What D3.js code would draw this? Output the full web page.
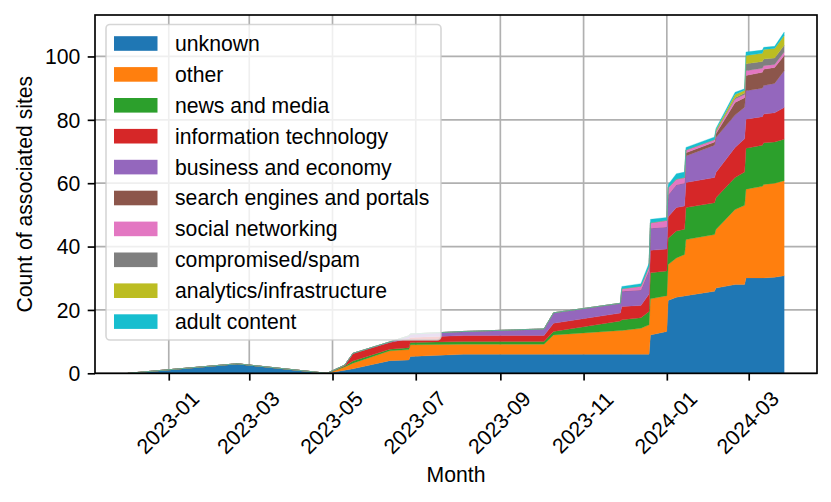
<!DOCTYPE html>
<html><head><meta charset="utf-8">
<script src="https://cdn.jsdelivr.net/npm/d3@7"></script>
<style>
body{margin:0;background:#fff}
text{font-family:"Liberation Sans",Arial,Helvetica,sans-serif;fill:#000}
</style>
</head><body><svg id="c" width="831" height="502"></svg>
<script>
const dates = ["2022-12-02","2023-02-20","2023-04-27","2023-05-10","2023-05-16","2023-06-12","2023-06-26","2023-06-27","2023-08-05","2023-10-03","2023-10-10","2023-11-28","2023-11-29","2023-12-13","2023-12-19","2023-12-20","2024-01-01","2024-01-02","2024-01-08","2024-01-14","2024-01-15","2024-02-05","2024-02-06","2024-02-20","2024-02-27","2024-02-28","2024-03-11","2024-03-12","2024-03-20","2024-03-27"];
const unknown   = [0,3,0,1,1.4,4.0,4.2,5.3,6,6,6,6,6,6,6,12.1,13.2,23,24,24.4,24.5,25.9,26.9,28,28,30.1,30.1,30.1,30.3,30.8];
const other     = [0,0,0,1,1.8,3.1,3.3,3.7,3.2,3.2,6.1,7.5,7.5,8.2,9.3,11.4,11.3,11.3,12.4,13.1,17.7,17.9,18.5,23.7,25,28,28.9,29.5,29.7,30];
const news      = [0,0,0,0.3,0.7,0.5,0.6,0.7,0.8,0.8,1.1,3.0,3.4,3.3,4.2,8.2,7.8,8.3,8.5,8.0,10.1,10.0,10,10.1,10.5,12.9,13,13.2,13,13.1];
const infotech  = [0,0,0,0.3,2.4,2.1,2.8,1.6,1.9,1.9,2.6,2.5,4.2,3.9,5.5,7.1,6.9,6.8,7.4,7.3,7.9,8.0,8,9.5,10.5,9.2,9,9,9.2,10];
const business  = [0,0,0,0,0,0.2,0.9,1.1,1.3,2.1,3.3,3.1,4.8,4.9,7.5,7.0,7.0,6.9,7.2,7.2,8.4,10.2,11,10.2,10,9.0,9,9,9.3,11.6];
const search    = [0,0,0,0,0,0,0,0,0,0,0,0,0,0,0,0,0,0,0,0,1.0,1.0,1.2,4.0,3,4.8,5,5.2,5,4.8];
const social    = [0,0,0,0,0,0,0,0,0,0,0,0,0.8,1.2,1.3,1.7,2.1,2.3,1.8,1.8,0.9,0.8,0.7,1.1,1,1.5,1.3,1.1,1,1.1];
const spam      = [0,0,0,0,0,0,0,0,0,0,0,0,0,0,0,0,0,0,0,0,0,0,0,0.4,0.5,2.2,2.1,2.1,2,2.1];
const analytics = [0,0,0,0,0,0,0,0,0,0,0,0,0,0,0,0,0,0,0,0,0,0,0.5,1.0,0.8,2.6,2.6,3.0,3,3.1];
const adult     = [0,0,0,0,0,0,0,0,0,0,0,0,0.7,0.8,1.0,1.1,0.9,1.0,1.7,1.7,0.8,0.8,0.5,0.7,0.5,1.1,1.0,0.7,0.7,1.1];
const categories = ["unknown","other","news and media","information technology","business and economy","search engines and portals","social networking","compromised/spam","analytics/infrastructure","adult content"];
const xTickLabels = ["2023-01","2023-03","2023-05","2023-07","2023-09","2023-11","2024-01","2024-03"];
const yTicks = [0,20,40,60,80,100];

const colors = ["#1f77b4","#ff7f0e","#2ca02c","#d62728","#9467bd","#8c564b","#e377c2","#7f7f7f","#bcbd22","#17becf"];
const FS = 21.2;
const series = [unknown,other,news,infotech,business,search,social,spam,analytics,adult];
const parse = d3.timeParse("%Y-%m-%d");
const t = dates.map(parse);
const rows = t.map((d,i)=>{const o={date:d}; categories.forEach((c,k)=>o[c]=series[k][i]); return o;});
const stacked = d3.stack().keys(categories)(rows);

const m = {l:95,r:817,t:15,b:373.3};
const t0 = t[0], t1 = t[t.length-1], span = t1 - t0;
const x = d3.scaleTime().domain([new Date(+t0-0.05*span), new Date(+t1+0.05*span)]).range([m.l,m.r]);
const ymax = d3.max(stacked[stacked.length-1], d=>d[1])*1.05;
const y = d3.scaleLinear().domain([0,ymax]).range([m.b,m.t]);

const svg = d3.select("#c");
svg.append("rect").attr("width",831).attr("height",502).attr("fill","#fff");

const xTicks = xTickLabels.map(d3.timeParse("%Y-%m"));
const grid = svg.append("g").attr("stroke","#b0b0b0").attr("stroke-width",1.67);
grid.selectAll("line.gx").data(xTicks).join("line")
  .attr("x1",d=>x(d)).attr("x2",d=>x(d)).attr("y1",m.t).attr("y2",m.b);
grid.selectAll("line.gy").data(yTicks).join("line")
  .attr("x1",m.l).attr("x2",m.r).attr("y1",d=>y(d)).attr("y2",d=>y(d));

const area = d3.area().x(d=>x(d.data.date)).y0(d=>y(d[0])).y1(d=>y(d[1]));
svg.append("g").selectAll("path").data(stacked).join("path")
  .attr("d",area).attr("fill",(d,i)=>colors[i]).attr("stroke",(d,i)=>colors[i]).attr("stroke-width",0.3);

svg.append("rect").attr("x",m.l).attr("y",m.t).attr("width",m.r-m.l).attr("height",m.b-m.t)
  .attr("fill","none").attr("stroke","#000").attr("stroke-width",1.67);

const gx = svg.append("g").attr("transform",`translate(0,${m.b})`)
  .call(d3.axisBottom(x).tickValues(xTicks).tickFormat(d3.timeFormat("%Y-%m")).tickSize(7.3).tickSizeOuter(0));
gx.select(".domain").remove();
gx.selectAll(".tick line").attr("stroke","#000").attr("stroke-width",1.67);
gx.selectAll(".tick text").attr("x",0).attr("y",0).attr("dy","0.35em")
  .attr("text-anchor","middle").attr("font-size",FS).attr("fill","#000")
  .attr("transform","translate(-1.5,49.2) rotate(-45)");

const gy = svg.append("g").attr("transform",`translate(${m.l},0)`)
  .call(d3.axisLeft(y).tickValues(yTicks).tickSize(7.3).tickPadding(7.3).tickSizeOuter(0));
gy.select(".domain").remove();
gy.selectAll(".tick line").attr("stroke","#000").attr("stroke-width",1.67);
gy.selectAll(".tick text").attr("font-size",FS).attr("fill","#000").attr("dy","0.35em");

svg.append("text").attr("x",(m.l+m.r)/2).attr("y",482).attr("text-anchor","middle")
  .attr("font-size",FS).text("Month");
svg.append("text").attr("transform",`translate(32,${(m.t+m.b)/2}) rotate(-90)`)
  .attr("text-anchor","middle").attr("font-size",FS).text("Count of associated sites");

const lg = svg.append("g");
lg.append("rect").attr("x",106).attr("y",24.5).attr("width",335).attr("height",315.5).attr("rx",4)
  .attr("fill","#fff").attr("fill-opacity",0.8).attr("stroke","#cccccc").attr("stroke-opacity",0.8).attr("stroke-width",1.6);
const items = lg.selectAll("g.it").data(categories).join("g")
  .attr("transform",(d,i)=>`translate(0,${43.5+i*30.9})`);
items.append("rect").attr("x",114).attr("y",-7.3).attr("width",43.5).attr("height",14.6)
  .attr("fill",(d,i)=>colors[i]);
items.append("text").attr("x",175).attr("y",0).attr("dy","0.35em").attr("font-size",FS).text(d=>d);
</script>
</body></html>
